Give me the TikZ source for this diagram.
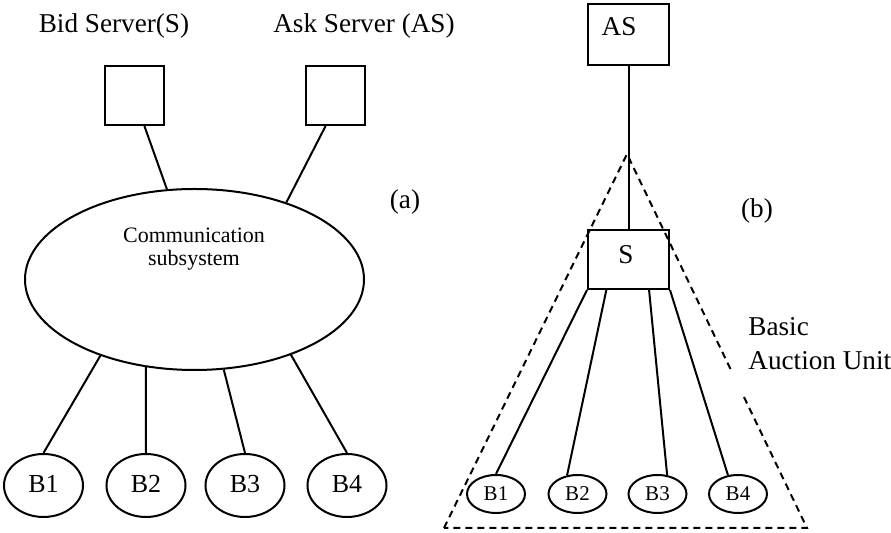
\documentclass[tikz,border=0pt]{standalone}
\usepackage{fontspec}
\setmainfont{Liberation Serif}
\usepackage{tikz}
\usetikzlibrary{shapes.geometric, calc}

\begin{document}
\begin{tikzpicture}[x=0.5pt,y=-0.5pt]
		\tikzset{server/.style = {draw, line width=1pt, minimum width=29.5pt, minimum height=29.5pt, inner sep=0pt}}
		\tikzset{buyer/.style = {shape=ellipse, draw, line width=1pt, minimum width=39.5pt, minimum height=31.5pt, inner sep=0pt, text height=0.66em, text depth=0pt, font=\fontsize{13}{15}\selectfont}}
		\tikzset{smallbuyer/.style = {buyer, minimum width=29pt, minimum height=19pt, font=\fontsize{10.5}{12}\selectfont}}
		\tikzset{caption/.style = {inner sep=0pt, font=\fontsize{13.6}{17}\selectfont}}
		\tikzset{link/.style = {line width=1pt}}
		\tikzset{unit/.style = {line width=1pt, dash pattern=on 3.5pt off 2.5pt}}

		\useasboundingbox (0,0) rectangle (891,533);

		% (a) servers on a communication subsystem
		\node[caption, anchor=base] (Bid_label) at (114,33) {Bid Server(S)};
		\node[caption, anchor=base] (Ask_label) at (364,33) {Ask Server (AS)};
		\node[server] (Bid) at (134.5,95.5) {};
		\node[server] (Ask) at (335.5,95.5) {};
		\node[shape=ellipse, draw, line width=1pt, minimum width=169.5pt, minimum height=90.5pt] (Comm) at (194.5,279.5) {};
		\node[inner sep=0pt, align=center, font=\fontsize{11}{11.5}\selectfont] (Comm_text) at (194,249) {Communication\\subsystem};
		\node[caption, anchor=base] (tag_a) at (405,209) {(a)};

		\node[buyer] (B_1) at (43.5,485.5) {B1};
		\node[buyer] (B_2) at (146,485.5) {B2};
		\node[buyer] (B_3) at (245,485.5) {B3};
		\node[buyer] (B_4) at (347,485.5) {B4};

		\draw[link] (Bid.-72) to (Comm.107);
		\draw[link] (Ask.-108) to (Comm.40);
		\draw[link] (Comm.219) to (B_1.north);
		\draw[link] (Comm.-119) to (B_2.north);
		\draw[link] (Comm.-72) to (B_3.north);
		\draw[link] (Comm.-38) to (B_4.north);

		% (b) basic auction unit
		\node[server, minimum width=40.5pt, minimum height=30.5pt, label={[caption, xshift=-4.75pt, yshift=4pt]center:AS}] (AS) at (628.5,34.5) {};
		\node[server, minimum width=40.5pt, minimum height=29.5pt, label={[caption, xshift=-1.25pt, yshift=2.5pt]center:S}] (S) at (628.5,259.5) {};
		\node[caption, anchor=base] (tag_b) at (757,218) {(b)};
		\node[caption, anchor=west, align=left] (Unit_label) at (748,344) {Basic\\Auction Unit};

		\node[smallbuyer] (C_1) at (496,494) {B1};
		\node[smallbuyer] (C_2) at (577.5,494) {B2};
		\node[smallbuyer] (C_3) at (657.5,494) {B3};
		\node[smallbuyer] (C_4) at (738,494) {B4};

		\draw[link] (AS) to (S);
		\draw[link] (S.south west) to (C_1.north);
		\draw[link] (S.-126) to (C_2.119);
		\draw[link] (S.-56) to (C_3.63);
		\draw[link] (S.south east) to (C_4.118);

		\coordinate (apex) at (627,154);
		\coordinate (bl) at (444,528);
		\coordinate (br) at (807,528);
		\draw[unit] (bl) -- (apex) -- ($(apex)!0.586!(br)$);
		\draw[unit] ($(apex)!0.65!(br)$) -- (br) -- (bl);

	\end{tikzpicture}
\end{document}
